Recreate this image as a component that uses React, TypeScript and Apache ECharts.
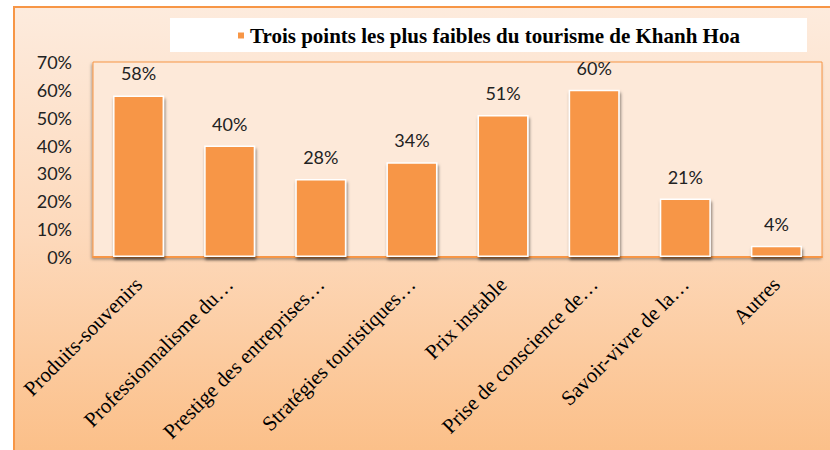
import React, { useEffect, useRef } from "react";
import * as echarts from "echarts";

const categories = [
  "Produits-souvenirs",
  "Professionnalisme du…",
  "Prestige des entreprises…",
  "Stratégies touristiques…",
  "Prix instable",
  "Prise de conscience de…",
  "Savoir-vivre de la…",
  "Autres",
];
const values = [58, 40, 28, 34, 51, 60, 21, 4];
const seriesName = "Trois points les plus faibles du tourisme de Khanh Hoa";
const yMin = 0;
const yMax = 70;
const yInterval = 10;

export default function App() {
  const ref = useRef<HTMLDivElement>(null);
  useEffect(() => {
    document.body.style.margin = "0";
    const chart = echarts.init(ref.current!, null, { renderer: "svg" });
    chart.setOption({
      animation: false,
      backgroundColor: "transparent",
      graphic: [
        {
          type: "rect",
          z: -50,
          shape: { x: 170, y: 18, width: 637, height: 34 },
          style: { fill: "#ffffff" },
        },
      ],
      legend: {
        left: 236,
        top: 25,
        padding: 0,
        icon: "rect",
        itemWidth: 8,
        itemHeight: 8,
        textStyle: {
          fontFamily: "Liberation Serif",
          fontWeight: "bold",
          fontSize: 21,
          color: "#000",
        },
        data: [seriesName],
      },
      grid: {
        left: 93,
        right: 8,
        top: 62,
        bottom: 193,
        show: true,
        backgroundColor: "#fde9d9",
        borderColor: "#f79646",
        borderWidth: 1,
        shadowColor: "rgba(0,0,0,0.35)",
        shadowBlur: 3,
        shadowOffsetX: -1,
        shadowOffsetY: 2,
      },
      xAxis: {
        type: "category",
        data: categories,
        axisLine: { show: true, lineStyle: { color: "#f79646", width: 2 } },
        axisTick: { show: false },
        axisLabel: {
          interval: 0,
          rotate: 45,
          margin: 24,
          fontFamily: "Liberation Serif",
          fontSize: 21,
          color: "#000",
        },
      },
      yAxis: {
        type: "value",
        min: yMin,
        max: yMax,
        interval: yInterval,
        axisLine: { show: false },
        axisTick: { show: false },
        splitLine: { show: false },
        axisLabel: {
          formatter: "{value}%",
          margin: 21,
          fontFamily: "Lato",
          fontSize: 18,
          color: "#222",
        },
      },
      series: [
        {
          name: seriesName,
          type: "bar",
          data: values,
          barWidth: "56%",
          itemStyle: {
            color: "#f79646",
            borderColor: "#ffffff",
            borderWidth: 1.5,
            shadowColor: "rgba(0,0,0,0.5)",
            shadowBlur: 3,
            shadowOffsetX: 1,
            shadowOffsetY: 3,
          },
          label: {
            show: true,
            position: "top",
            distance: 13,
            formatter: "{c}%",
            fontFamily: "Lato",
            fontSize: 18,
            color: "#222",
          },
        },
      ],
    });
    return () => chart.dispose();
  }, []);
  return (
    <div style={{ position: "fixed", left: 0, top: 0, width: 830, height: 450, background: "#fff", overflow: "hidden" }}>
      <div
        style={{
          position: "absolute",
          left: 13,
          top: 6,
          width: 840,
          height: 460,
          boxSizing: "border-box",
          border: "2px solid #f79646",
          background: "linear-gradient(to bottom, #fdebdd 0%, #fdd9bb 50%, #fbbe86 100%)",
        }}
      />
      <div ref={ref} style={{ position: "absolute", left: 0, top: 0, width: 830, height: 450 }} />
    </div>
  );
}
